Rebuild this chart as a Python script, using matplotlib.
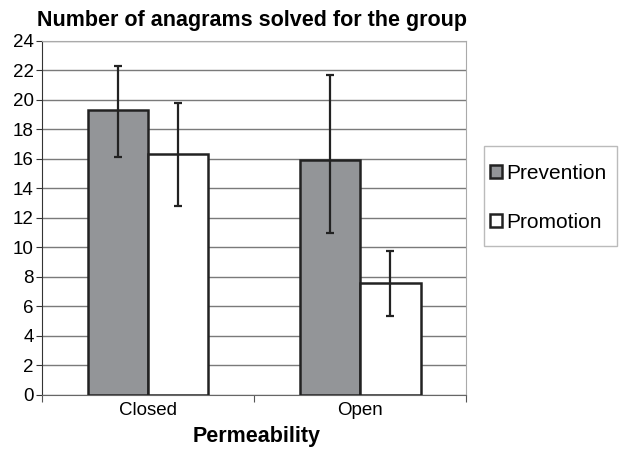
import numpy as np
import matplotlib.pyplot as plt
from matplotlib.patches import Patch, Rectangle

plt.rcParams['font.family'] = ['Liberation Sans', 'DejaVu Sans']

# data
categories = ['Closed', 'Open']
prevention = [19.3, 15.9]
prevention_lo = [3.2, 4.9]
prevention_hi = [3.0, 5.8]
promotion = [16.3, 7.6]
promotion_lo = [3.5, 2.25]
promotion_hi = [3.5, 2.15]

fig = plt.figure(figsize=(6.22, 4.5), dpi=100)
ax = fig.add_axes([0.0675, 0.123, 0.682, 0.786])

x = np.arange(len(categories))
w = 0.285
ekw = dict(ecolor='#222222', elinewidth=1.6, capsize=3, capthick=1.6)

ax.bar(x - w / 2, prevention, w, color='#939598', edgecolor='#222222',
       linewidth=1.8, zorder=3, label='Prevention')
ax.bar(x + w / 2, promotion, w, color='white', edgecolor='#222222',
       linewidth=1.8, zorder=3, label='Promotion')
ax.errorbar(x - w / 2, prevention, yerr=[prevention_lo, prevention_hi],
            fmt='none', zorder=4, **ekw)
ax.errorbar(x + w / 2, promotion, yerr=[promotion_lo, promotion_hi],
            fmt='none', zorder=4, **ekw)

ax.set_xlim(-0.5, 1.5)
ax.set_ylim(0, 24)
ax.set_yticks(range(0, 25, 2))
ax.yaxis.grid(True, color='#7a7a7a', linewidth=1.0, zorder=0)
ax.set_axisbelow(True)

# category ticks between groups, labels in the middle
ax.set_xticks([-0.5, 0.5, 1.5])
ax.set_xticklabels([])
ax.set_xticks(x, minor=True)
ax.set_xticklabels(categories, minor=True)
ax.tick_params(axis='x', which='minor', length=0, labelsize=13.5, pad=5)
ax.tick_params(axis='x', which='major', length=5, color='#555555', direction='out')
ax.tick_params(axis='y', length=4, labelsize=13.5, color='#333333', pad=2)

for s in ['top', 'right']:
    ax.spines[s].set_color('#aaaaaa')
ax.spines['bottom'].set_color('#666666')
ax.spines['left'].set_color('#333333')

fig.text(0.405, 0.955, 'Number of anagrams solved for the group',
         ha='center', va='center', fontsize=15.5, fontweight='bold')
fig.text(0.413, 0.03, 'Permeability', ha='center', va='center',
         fontsize=15.5, fontweight='bold')

# legend box drawn separately so the entries can sit close to its left edge
fig.add_artist(Rectangle((0.778, 0.453), 0.214, 0.222, transform=fig.transFigure,
                         fill=False, edgecolor='#bbbbbb', linewidth=1.0))
handles = [Patch(facecolor='#939598', edgecolor='#222222', linewidth=1.8),
           Patch(facecolor='white', edgecolor='#222222', linewidth=1.8)]
fig.legend(handles, ['Prevention', 'Promotion'], loc='upper left',
           bbox_to_anchor=(0.781, 0.645), fontsize=15, frameon=False,
           handlelength=0.6, handleheight=0.6, handletextpad=0.2,
           labelspacing=1.42, borderpad=0.2, borderaxespad=0)

fig.savefig('out.png', dpi=100)
